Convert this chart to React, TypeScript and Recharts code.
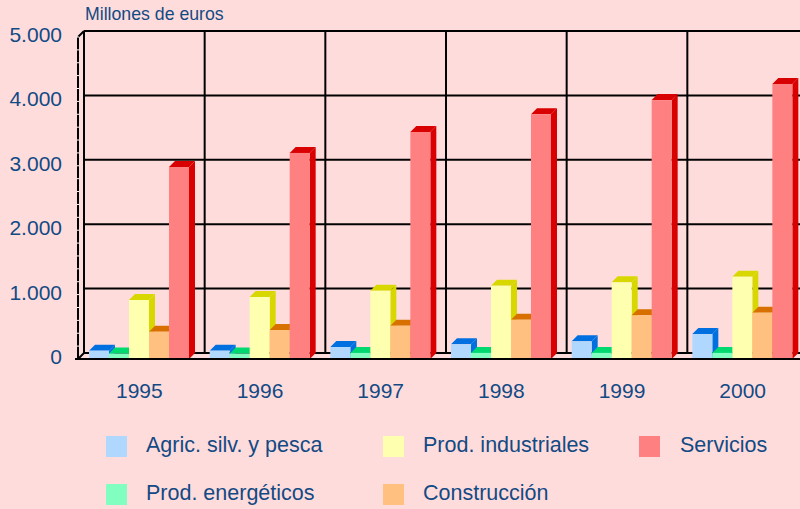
import React from 'react';
import { BarChart, Bar, XAxis, YAxis, CartesianGrid, ReferenceLine, Legend } from 'recharts';

const years = ['1995', '1996', '1997', '1998', '1999', '2000'];
const agric = [130, 130, 186, 228, 275, 388];
const energeticos = [85, 85, 95, 95, 95, 95];
const industriales = [916, 963, 1060, 1138, 1190, 1278];
const construccion = [424, 450, 517, 610, 678, 720];
const servicios = [2981, 3200, 3525, 3800, 4020, 4270];

const valueTicks = [0, 200, 400, 600, 800, 1000, 1200, 1400, 1600, 1800, 2000, 2200, 2400, 2600, 2800, 3000, 3200, 3400, 3600, 3800, 4000, 4200, 4400, 4600, 4800, 5000];

const BG = '#ffdcdc';
const TEXT = '#124a84';
const FONT = '"Liberation Sans", Arial, sans-serif';

const CHART_W = 803;
const CHART_H = 509;
const LEFT = 78;
const TOP = 37;
const BASE = 359;
const DEPTH = 6;
const PAD_LEFT = 1;
const PLOT_W = CHART_W - LEFT - PAD_LEFT;
const PLOT_H = BASE - TOP;

const series = [
  { key: 'agric', name: 'Agric. silv. y pesca', front: '#b0d8ff', dark: '#0070e0', values: agric },
  { key: 'energeticos', name: 'Prod. energéticos', front: '#80ffc0', dark: '#00d870', values: energeticos },
  { key: 'industriales', name: 'Prod. industriales', front: '#ffffb0', dark: '#d8d800', values: industriales },
  { key: 'construccion', name: 'Construcción', front: '#ffc080', dark: '#d87000', values: construccion },
  { key: 'servicios', name: 'Servicios', front: '#ff8080', dark: '#d80000', values: servicios },
];

const legendSlots: Record<string, { box: number; text: number; y: number }> = {
  agric: { box: 106, text: 146, y: 436 },
  energeticos: { box: 106, text: 146, y: 484 },
  industriales: { box: 383, text: 423, y: 436 },
  construccion: { box: 383, text: 423, y: 484 },
  servicios: { box: 639, text: 680, y: 436 },
};

const data = years.map((year, i) => {
  const row: Record<string, string | number> = { year };
  series.forEach(s => {
    row[s.key] = s.values[i];
  });
  return row;
});

const verticalPoints = years.map((_, i) => LEFT + DEPTH + (i * PLOT_W) / years.length);
const horizontalPoints = [0, 1000, 2000, 3000, 4000, 5000].map(
  v => BASE - DEPTH - (v / 5000) * PLOT_H,
);

const Bar3D = (props: any) => {
  const { x, y, width, height, front, dark } = props;
  const right = x + width;
  const bottom = y + height;
  return (
    <g>
      <polygon
        points={`${x},${y} ${x + DEPTH},${y - DEPTH} ${right + DEPTH},${y - DEPTH} ${right},${y}`}
        fill={dark}
      />
      <polygon
        points={`${right},${y} ${right + DEPTH},${y - DEPTH} ${right + DEPTH},${bottom - DEPTH} ${right},${bottom}`}
        fill={dark}
      />
      <rect x={x} y={y} width={width} height={height + 1} fill={front} />
    </g>
  );
};

const WallEdge = (props: any) => (
  <line
    x1={props.x1}
    y1={props.y1}
    x2={props.x1 + DEPTH}
    y2={props.y1 - DEPTH}
    stroke="#000"
    strokeWidth={2}
  />
);

const ValueTick = (props: any) => {
  const { y, payload } = props;
  const major = payload.value % 1000 === 0;
  return (
    <g>
      {payload.value !== 0 && (
        <line x1={LEFT - 1} x2={LEFT + 1} y1={y} y2={y} stroke="#fff" strokeWidth={1} />
      )}
      {payload.value === 0 && (
        <line x1={LEFT - 3} x2={LEFT} y1={y} y2={y} stroke="#000" strokeWidth={2} />
      )}
      {major && (
        <text
          x={62}
          y={y + 5}
          textAnchor="end"
          fontFamily={FONT}
          fontSize={21}
          fill={TEXT}
        >
          {payload.value.toLocaleString('de-DE')}
        </text>
      )}
    </g>
  );
};

const LegendBlock = () => (
  <div style={{ position: 'relative', width: 800, height: 509 }}>
    {series.map(s => {
      const slot = legendSlots[s.key];
      return (
        <React.Fragment key={s.key}>
          <div
            style={{
              position: 'absolute',
              left: slot.box,
              top: slot.y,
              width: 21,
              height: 21,
              background: s.front,
            }}
          />
          <div
            style={{
              position: 'absolute',
              left: slot.text,
              top: slot.y - 3,
              lineHeight: '24px',
              fontFamily: FONT,
              fontSize: 21.5,
              color: TEXT,
              whiteSpace: 'nowrap',
            }}
          >
            {s.name}
          </div>
        </React.Fragment>
      );
    })}
  </div>
);

export default function App() {
  return (
    <div
      style={{
        position: 'absolute',
        left: 0,
        top: 0,
        width: 800,
        height: 509,
        overflow: 'hidden',
        background: BG,
      }}
    >
      <div
        style={{
          position: 'absolute',
          left: 85,
          top: 5,
          fontFamily: FONT,
          fontSize: 17.7,
          lineHeight: '18px',
          color: TEXT,
          whiteSpace: 'nowrap',
        }}
      >
        Millones de euros
      </div>
      <BarChart
        width={CHART_W}
        height={CHART_H}
        data={data}
        margin={{ top: TOP, right: 0, bottom: 0, left: 0 }}
        barCategoryGap={10}
        barGap={0}
      >
        <CartesianGrid
          x={LEFT + DEPTH}
          y={TOP - DEPTH}
          width={PLOT_W - DEPTH}
          height={PLOT_H}
          horizontalPoints={horizontalPoints}
          verticalPoints={verticalPoints}
          stroke="#000"
          strokeWidth={2}
        />
        <XAxis
          dataKey="year"
          height={CHART_H - BASE}
          padding={{ left: PAD_LEFT, right: 0 }}
          axisLine={{ stroke: '#000', strokeWidth: 2 }}
          tickLine={false}
          tick={{ fontFamily: FONT, fontSize: 21, fill: TEXT, dy: 16 }}
        />
        <YAxis
          width={LEFT}
          domain={[0, 5000]}
          ticks={valueTicks}
          interval={0}
          axisLine={{ stroke: '#000', strokeWidth: 2 }}
          tickLine={false}
          tick={<ValueTick />}
        />
        <ReferenceLine y={0} shape={<WallEdge />} />
        <ReferenceLine y={5000} shape={<WallEdge />} />
        {series.map(s => (
          <Bar
            key={s.key}
            dataKey={s.key}
            name={s.name}
            isAnimationActive={false}
            fill={s.front}
            shape={<Bar3D front={s.front} dark={s.dark} />}
          />
        ))}
        <Legend
          layout="vertical"
          align="center"
          verticalAlign="middle"
          wrapperStyle={{ left: 0, top: 0, bottom: 'auto', width: 800, height: 509, pointerEvents: 'none' }}
          content={<LegendBlock />}
        />
      </BarChart>
    </div>
  );
}
